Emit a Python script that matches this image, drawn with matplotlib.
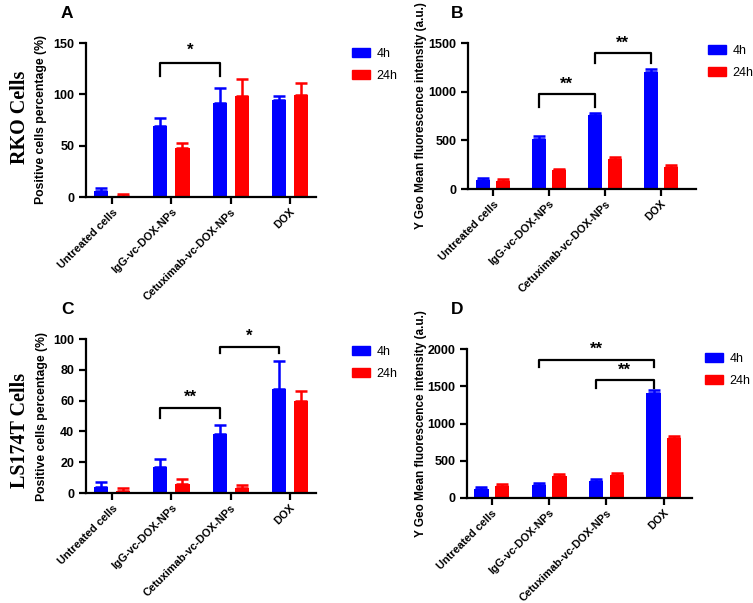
import numpy as np
import matplotlib
matplotlib.use("Agg")
import matplotlib.pyplot as plt
from matplotlib.patches import Patch

plt.rcParams['font.family'] = ['Liberation Sans', 'DejaVu Sans']

groups = ['Untreated cells', 'IgG-vc-DOX-NPs', 'Cetuximab-vc-DOX-NPs', 'DOX']
series = ['4h', '24h']

# panel A - RKO positive cells (%)
a_4h = [6, 69, 92, 94]
a_4h_err = [3, 8, 14, 4]
a_24h = [1, 48, 98, 99]
a_24h_err = [2, 5, 17, 12]

# panel B - RKO fluorescence
b_4h = [88, 515, 757, 1205]
b_4h_err = [22, 25, 28, 25]
b_24h = [85, 192, 312, 222]
b_24h_err = [15, 13, 16, 23]

# panel C - LS174T positive cells (%)
c_4h = [4, 17, 38.5, 67.5]
c_4h_err = [3, 5, 5.5, 18.5]
c_24h = [1.5, 6, 3.5, 60]
c_24h_err = [1.5, 3, 2, 6]

# panel D - LS174T fluorescence
d_4h = [120, 180, 225, 1415]
d_4h_err = [25, 15, 25, 30]
d_24h = [165, 295, 305, 805]
d_24h_err = [25, 25, 25, 25]

BLUE = '#0000ff'
RED = '#ff0000'

W, H = 753, 603
fig = plt.figure(figsize=(W / 100, H / 100), dpi=100)


def px_axes(left, right, top, bottom):
    return fig.add_axes([left / W, 1 - bottom / H, (right - left) / W, (bottom - top) / H])


def panel(ax, v4, e4, v24, e24, ymax, step, xlim, off, bw, ylabel, lab_x, lab_fs, brackets, leg_xy):
    x = np.arange(len(groups))
    ax.bar(x - off, v4, bw, color=BLUE, zorder=2)
    ax.bar(x + off, v24, bw, color=RED, zorder=2)
    ax.errorbar(x - off, v4, yerr=[np.zeros(4), e4], fmt='none', ecolor=BLUE,
                elinewidth=1.8, capsize=4, capthick=1.8, zorder=1)
    ax.errorbar(x + off, v24, yerr=[np.zeros(4), e24], fmt='none', ecolor=RED,
                elinewidth=1.8, capsize=4, capthick=1.8, zorder=1)
    ax.set_xlim(*xlim)
    ax.set_ylim(0, ymax)
    ax.set_yticks(np.arange(0, ymax + 1, step))
    ax.set_xticks(x)
    ax.set_xticklabels(groups, rotation=45, ha='right', rotation_mode='anchor',
                       fontsize=7.9, fontweight='bold')
    for lab in ax.get_yticklabels():
        lab.set_fontsize(9)
        lab.set_fontweight('bold')
    ax.spines['top'].set_visible(False)
    ax.spines['right'].set_visible(False)
    for s in ['left', 'bottom']:
        ax.spines[s].set_linewidth(1.6)
    ax.tick_params(width=1.6, length=5)
    ax.tick_params(axis='x', pad=2)
    ax.set_ylabel(ylabel, fontsize=lab_fs, fontweight='bold')
    ax.yaxis.set_label_coords(lab_x, 0.5)
    for i, j, top, leg, stars, sy in brackets:
        xs = [i - off, i - off, j - off, j - off]
        ys = [leg, top, top, leg]
        ax.plot(xs, ys, color='black', lw=1.6, clip_on=False)
        ax.text((i + j) / 2 - off, sy, stars, ha='center', va='center',
                fontsize=12, fontweight='bold', clip_on=False)
    fig.legend(handles=[Patch(color=BLUE, label=series[0]), Patch(color=RED, label=series[1])],
               loc='upper left', bbox_to_anchor=(leg_xy[0] / W, 1 - leg_xy[1] / H),
               frameon=False, fontsize=9, borderaxespad=0, borderpad=0,
               handlelength=1.4, handleheight=0.7, labelspacing=0.8, handletextpad=0.55)


axA = px_axes(86, 316, 43, 197)
panel(axA, a_4h, a_4h_err, a_24h, a_24h_err, 150, 50, (-0.44, 3.44), 0.186, 0.24,
      'Positive cells percentage (%)', -0.17, 8.8, [(1, 2, 131, 118, '*', 143)], (352, 48))

axB = px_axes(468, 696, 43, 189)
panel(axB, b_4h, b_4h_err, b_24h, b_24h_err, 1500, 500, (-0.45, 3.63), 0.18, 0.25,
      'Y Geo Mean fluorescence intensity (a.u.)', -0.18, 8.5,
      [(1, 2, 976, 843, '**', 1080), (2, 3, 1397, 1294, '**', 1500)], (708, 45))

axC = px_axes(86, 316, 339, 493)
panel(axC, c_4h, c_4h_err, c_24h, c_24h_err, 100, 20, (-0.44, 3.44), 0.186, 0.24,
      'Positive cells percentage (%)', -0.165, 8.8,
      [(1, 2, 55, 49, '**', 62), (2, 3, 95, 91, '*', 102)], (352, 346))

axD = px_axes(467, 692, 349, 498)
panel(axD, d_4h, d_4h_err, d_24h, d_24h_err, 2000, 500, (-0.43, 3.49), 0.18, 0.25,
      'Y Geo Mean fluorescence intensity (a.u.)', -0.178, 8.5,
      [(1, 3, 1852, 1758, '**', 1990), (2, 3, 1584, 1476, '**', 1720)], (705, 353))

# panel letters and row labels
for lx, ly, letter in [(67, 13, 'A'), (457, 13, 'B'), (67, 310, 'C'), (457, 310, 'D')]:
    fig.text(lx / W, 1 - ly / H, letter, fontsize=12.5, fontweight='bold', ha='center', va='center')

fig.text(20 / W, 1 - 117 / H, 'RKO Cells', rotation=90, ha='center', va='center',
         fontsize=14.5, fontweight='bold', family='Liberation Serif')
fig.text(20 / W, 1 - 430 / H, 'LS174T Cells', rotation=90, ha='center', va='center',
         fontsize=14.5, fontweight='bold', family='Liberation Serif')

fig.savefig('out.png', dpi=100)
